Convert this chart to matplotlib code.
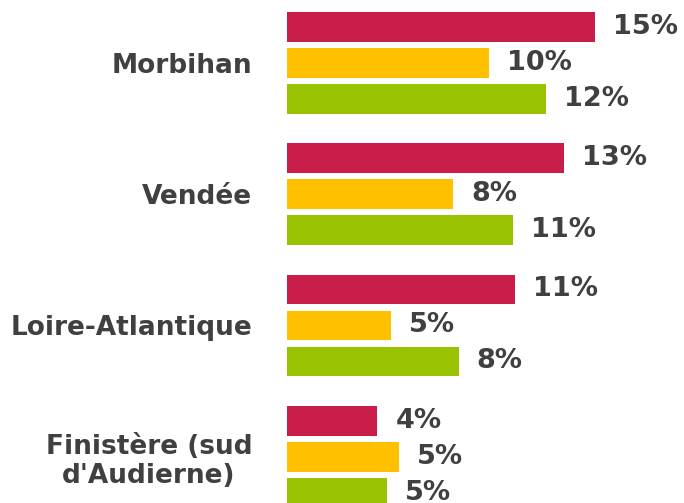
import numpy as np
import matplotlib.pyplot as plt

# Départements (top to bottom) and three series
departements = ["Morbihan", "Vendée", "Loire-Atlantique", "Finistère (sud\nd'Audierne)"]
serie_rouge = [14.65, 13.18, 10.86, 4.30]
serie_jaune = [9.62, 7.90, 4.97, 5.33]
serie_verte = [12.33, 10.75, 8.18, 4.78]

couleurs = ["#C81D49", "#FFC000", "#99C200"]
gris = "#404040"

fig = plt.figure(figsize=(6.84, 5.03), dpi=100)
ax = fig.add_axes([287 / 684, 0, 1 - 287 / 684, 1])

group_step = 3.645   # distance between groups, in bar pitches
bar_h = 0.825
centres = np.arange(len(departements)) * group_step

for k, (vals, col) in enumerate(zip([serie_rouge, serie_jaune, serie_verte], couleurs)):
    bars = ax.barh(centres + (k - 1), vals, height=bar_h, color=col, edgecolor="none")
    ax.bar_label(bars, labels=[f"{v:.0f}%" for v in vals], padding=13,
                 fontsize=19.5, fontweight="bold", color=gris)

ax.set_xlim(0, (684 - 287) / 21)
ax.set_ylim((503 - 63) / 36, -63 / 36)

ax.set_yticks(centres, departements)
ax.tick_params(axis="y", length=0, pad=25)
for lbl in ax.get_yticklabels():
    lbl.set_fontsize(19)
    lbl.set_fontweight("bold")
    lbl.set_color(gris)
    lbl.set_multialignment("center")
    lbl.set_linespacing(1.15)

ax.set_xticks([])
for s in ax.spines.values():
    s.set_visible(False)

fig.savefig("out.png", dpi=100)
